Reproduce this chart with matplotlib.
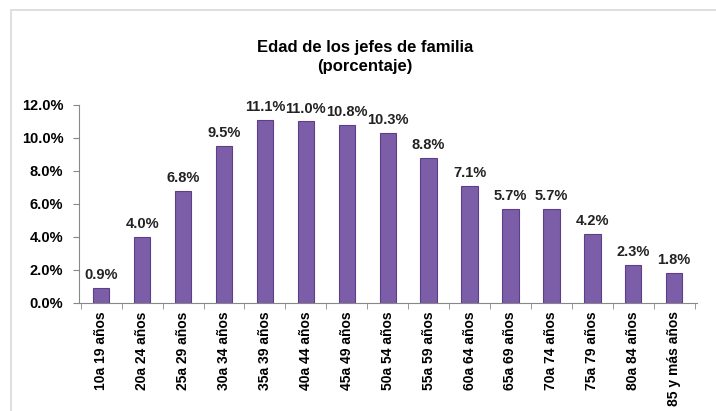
import matplotlib.pyplot as plt
import numpy as np
from matplotlib.patches import Rectangle
from matplotlib.ticker import PercentFormatter

plt.rcParams['font.family'] = ['Liberation Sans', 'DejaVu Sans']

categories = ['10a 19 años', '20a 24 años', '25a 29 años', '30a 34 años', '35a 39 años',
              '40a 44 años', '45a 49 años', '50a 54 años', '55a 59 años', '60a 64 años',
              '65a 69 años', '70a 74 años', '75a 79 años', '80a 84 años', '85 y más años']
values = [0.9, 4.0, 6.8, 9.5, 11.1, 11.0, 10.8, 10.3, 8.8, 7.1, 5.7, 5.7, 4.2, 2.3, 1.8]

fig = plt.figure(figsize=(7.16, 4.11), dpi=100)
# light frame around the chart area
fig.patches.append(Rectangle((0.015, -0.05), 1.1, 1.025, transform=fig.transFigure,
                             fill=False, edgecolor='#d9d9d9', linewidth=1.2))

ax = fig.add_axes([0.110, 0.263, 0.863, 0.482])
x = np.arange(len(categories))
ax.bar(x, values, width=0.4, color='#7b5ea7', edgecolor='#5b3f88', linewidth=0.8)

for xi, v in zip(x, values):
    ax.text(xi, v + 0.35, f'{v:.1f}%', ha='center', va='bottom', fontsize=10.5,
            fontweight='bold', color='#222222')

ax.set_xlim(-0.55, len(categories) - 0.45)
ax.set_ylim(0, 12)
ax.set_yticks(np.arange(0, 12.1, 2))
ax.yaxis.set_major_formatter(PercentFormatter(decimals=1))
ax.set_xticks(x)
ax.set_xticklabels(categories, rotation=90, fontsize=10, fontweight='bold')
ax.set_xticks(np.arange(-0.5, len(categories), 1), minor=True)
ax.tick_params(axis='x', which='major', length=0, pad=6)
ax.tick_params(axis='x', which='minor', length=4, direction='out', color='#888888')
ax.tick_params(axis='y', length=4, color='#888888', labelsize=10.5, pad=7)
for lbl in ax.get_yticklabels():
    lbl.set_fontweight('bold')
for s in ['top', 'right']:
    ax.spines[s].set_visible(False)
ax.spines['left'].set_color('#888888')
ax.spines['bottom'].set_color('#888888')

fig.text(0.51, 0.885, 'Edad de los jefes de familia', ha='center', va='center', fontsize=12, fontweight='bold')
fig.text(0.51, 0.837, '(porcentaje)', ha='center', va='center', fontsize=12, fontweight='bold')

plt.savefig('out.png', dpi=100)
